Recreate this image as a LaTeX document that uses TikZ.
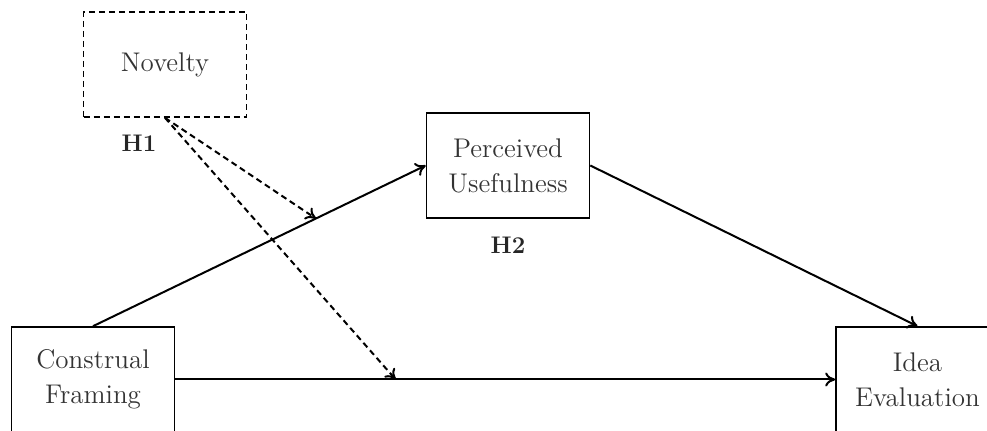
\documentclass[tikz,border=0pt]{standalone}
\usetikzlibrary{arrows.meta,calc}
\begin{document}
\begin{tikzpicture}[x=0.5pt, y=-0.5pt,
	box/.style={draw, line width=0.8pt, minimum width=81.5pt, minimum height=52.5pt, align=center, font=\fontsize{13.5}{17.5}\selectfont, text=black!80},
	hyp/.style={font=\fontsize{12}{14}\selectfont\bfseries, text=black!85},
	link/.style={line width=1pt, -{To[length=5pt,width=7pt]}},
	moderation/.style={link, dash pattern=on 3pt off 2pt}]
	\useasboundingbox (0,0) rectangle (987,431);

	\node[box, dash pattern=on 3pt off 2pt] (nov) at (165, 64.5) {Novelty};
	\node[box] (pu) at (508, 165.5) {Perceived\\Usefulness};
	\node[box] (cf) at (93, 379.5) {Construal\\Framing};
	\node[box] (ie) at (917.5, 379.5) {Idea\\Evaluation};

	\node[hyp] (h1) at (139, 143) {H1};
	\node[hyp] (h2) at (508, 245) {H2};

	% main paths
	\draw[link] (cf.north) -- (pu.west);
	\draw[link] (pu.east) -- (ie.north);
	\draw[link] (cf.east) -- (ie.west);

	% moderation by novelty
	\coordinate (m1) at ($(cf.north)!0.67!(pu.west)$);
	\coordinate (m2) at ($(cf.east)!0.334!(ie.west)$);
	\draw[moderation] (nov.south) -- (m1);
	\draw[moderation] (nov.south) -- (m2);
\end{tikzpicture}
\end{document}
